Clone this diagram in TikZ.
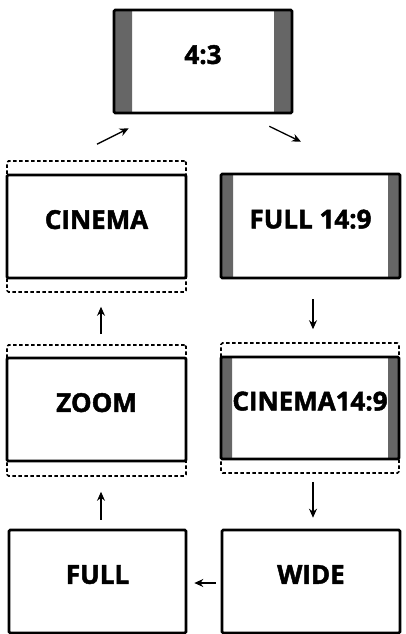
\documentclass[tikz,border=0pt]{standalone}
\usepackage{fontspec}
\setmainfont{Open Sans}[BoldFeatures={FakeBold=1.8}]
\usetikzlibrary{arrows.meta}
\definecolor{bargray}{HTML}{666666}
\tikzset{
  screen/.style={draw=black, line width=2.6pt, rounded corners=1.2pt, fill=white,
    minimum width=#1, minimum height=103pt, inner sep=0pt, text depth=14pt,
    font=\fontsize{26}{30}\selectfont\bfseries},
  screen/.default=179pt,
  bars/.style={path picture={
    \fill[bargray] (path picture bounding box.north west) rectangle ([xshift=#1]path picture bounding box.south west);
    \fill[bargray] (path picture bounding box.north east) rectangle ([xshift=-#1]path picture bounding box.south east);}},
  safe/.style={draw=black, line width=1.6pt, dash pattern=on 3.5pt off 2.5pt, rounded corners=1.5pt,
    minimum width=179pt, minimum height=#1, inner sep=0pt},
  arr/.style={line width=1.3pt, -{Stealth[length=9pt,width=8pt]}}
}
\begin{document}
\begin{tikzpicture}[x=1pt,y=-1pt]
\useasboundingbox (0,0) rectangle (406,634);
% safe-area outlines
\node[safe=131pt] (cinD) at (96.5,226.5) {};
\node[safe=131pt] (zoomD) at (96.5,410.5) {};
\node[safe=130pt, minimum width=178pt] (c149D) at (310,408) {};
% screens
\node[screen=178pt, bars=18pt] (t43) at (203,61.5) {4:3};
\node[screen] (cin) at (96.5,226.5) {CINEMA};
\node[screen, bars=12pt, minimum height=104pt] (f149) at (310.5,226) {FULL 14:9};
\node[screen] (zoom) at (96.5,409.5) {ZOOM};
\node[screen=178pt, bars=11pt, minimum height=102pt] (c149) at (310,408) {CINEMA14:9};
\node[screen=177pt] (full) at (97.5,581.5) {FULL};
\node[screen=178pt] (wide) at (311,581.5) {WIDE};
% arrows
\draw[arr] ([xshift=3.5pt,yshift=9pt]full.north) -- ([xshift=4.5pt,yshift=-15pt]zoomD.south);
\draw[arr] ([xshift=4.5pt,yshift=10pt]zoomD.north) -- ([xshift=4.5pt,yshift=-14pt]cinD.south);
\draw[arr] ([xshift=0.5pt,yshift=16pt]cinD.north) -- ([xshift=16pt,yshift=-14pt]t43.south west);
\draw[arr] ([xshift=-24pt,yshift=-12pt]t43.south east) -- ([xshift=-9.5pt,yshift=31pt]f149.north);
\draw[arr] ([xshift=2.5pt,yshift=-20pt]f149.south) -- ([xshift=3pt,yshift=13pt]c149D.north);
\draw[arr] ([xshift=3pt,yshift=-8pt]c149D.south) -- ([xshift=2pt,yshift=11pt]wide.north);
\draw[arr] ([xshift=-5pt,yshift=-1.5pt]wide.west) -- ([xshift=7pt,yshift=-1.5pt]full.east);
\end{tikzpicture}
\end{document}
